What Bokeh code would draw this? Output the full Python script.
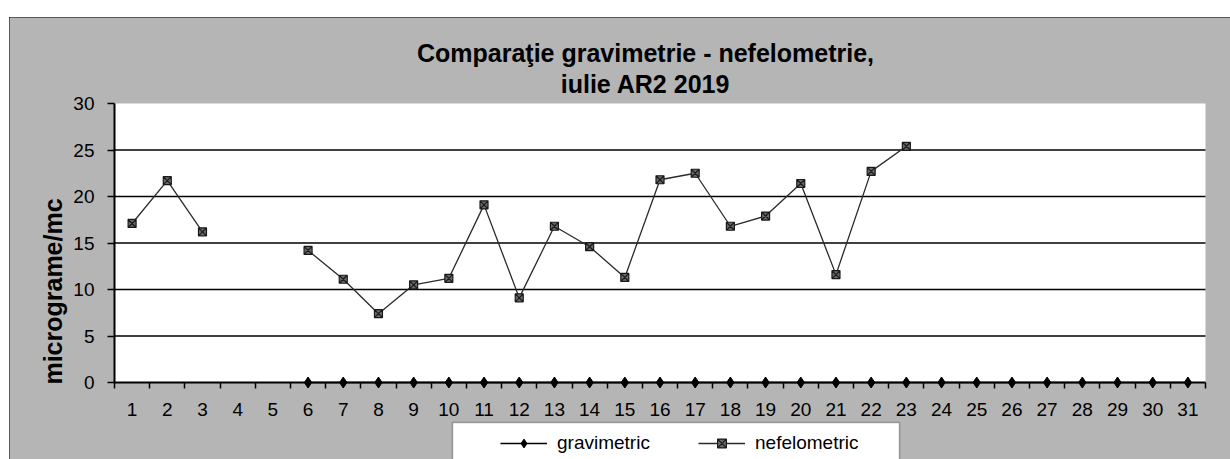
import math
import numpy as np
from bokeh.plotting import figure
from bokeh.models import FixedTicker, Legend, LegendItem, ColumnDataSource, Label, BoxAnnotation
from bokeh.embed import file_html
from bokeh.resources import INLINE

nan = float("nan")

# ---- data ----
days = list(range(1, 32))
day_labels = [str(d) for d in days]
gravimetric = [nan] * 5 + [0.0] * 26
nefelometric = [17.1, 21.7, 16.2, nan, nan, 14.2, 11.1, 7.4, 10.5, 11.2,
                19.1, 9.1, 16.8, 14.6, 11.3, 21.8, 22.5, 16.8, 17.9, 21.4,
                11.6, 22.7, 25.4, nan, nan, nan, nan, nan, nan, nan, nan]
y_ticks = [0, 5, 10, 15, 20, 25, 30]
title_lines = ["Comparaţie gravimetrie - nefelometrie,", "iulie AR2 2019"]
y_label = "micrograme/mc"
series_names = ["gravimetric", "nefelometric"]

FONT = "Liberation Sans"
BG = "#b5b5b5"

# layout: the frame covers the whole canvas; the data area is [0.5, 31.5] x [0, 30]
W, H = 1221, 442
PX_X = 1091 / 31.0      # px per category
PX_Y = 279 / 30.0       # px per unit
LEFT_PAD, RIGHT_PAD = 105, 25
TOP_PAD, BOTTOM_PAD = 86, 77
x0 = 0.5 - LEFT_PAD / PX_X
x1 = 31.5 + RIGHT_PAD / PX_X
y0 = 0 - BOTTOM_PAD / PX_Y
y1 = 30 + TOP_PAD / PX_Y

src = ColumnDataSource(dict(day=days, grav=np.array(gravimetric), nef=np.array(nefelometric)))

p = figure(width=W, height=H, x_range=(x0, x1), y_range=(y0, y1),
           output_backend="svg", toolbar_location=None, title=None,
           min_border_left=0, min_border_right=0, min_border_top=0, min_border_bottom=0,
           background_fill_color=BG, border_fill_color=BG, outline_line_color=None,
           margin=(17, 0, 0, 9),
           styles={"outline": "2px solid black", "outline-offset": "-2px"})
p.xgrid.visible = False
p.ygrid.visible = False

# white plot area
p.add_layout(BoxAnnotation(left=0.5, right=31.5, bottom=0, top=30, fill_color="white",
                           fill_alpha=1.0, line_color=None, level="image"))

# horizontal gridlines within the plot area
grid_y = y_ticks[1:-1]
p.segment(x0=[0.5] * len(grid_y), x1=[31.5] * len(grid_y), y0=grid_y, y1=grid_y,
          line_color="black", line_width=1.5)

# axes at fixed positions
p.xaxis.fixed_location = 0
p.xaxis.bounds = (0.5, 31.5)
p.xaxis.ticker = FixedTicker(ticks=days, minor_ticks=[d - 0.5 for d in days] + [31.5])
p.xaxis.major_label_overrides = {d: s for d, s in zip(days, day_labels)}
p.xaxis.major_tick_out = 0
p.xaxis.major_tick_in = 0
p.xaxis.minor_tick_out = 6
p.xaxis.minor_tick_in = 0
p.xaxis.minor_tick_line_color = "black"
p.xaxis.minor_tick_line_width = 1.5
p.xaxis.major_label_standoff = 14

p.yaxis.fixed_location = 0.5
p.yaxis.bounds = (0, 30)
p.yaxis.ticker = FixedTicker(ticks=y_ticks)
p.yaxis.major_tick_out = 7
p.yaxis.major_tick_in = 0
p.yaxis.minor_tick_out = 0
p.yaxis.major_tick_line_width = 1.5
p.yaxis.major_label_standoff = 13

for ax in (p.xaxis, p.yaxis):
    ax.axis_line_color = "black"
    ax.axis_line_width = 2
    ax.major_tick_line_color = "black"
    ax.major_label_text_font = FONT
    ax.major_label_text_font_size = "19px"
    ax.major_label_text_color = "black"

# series
r_gl = p.line("day", "grav", source=src, line_color="black", line_width=1.5)
r_gm = p.scatter("day", "grav", source=src, marker="diamond", size=11,
                 fill_color="black", line_color="black")
r_nl = p.line("day", "nef", source=src, line_color="#2a2a2a", line_width=1.3)
r_nm = p.scatter("day", "nef", source=src, marker="square_x", size=8,
                 fill_color="#6a6a6a", line_color="#1a1a1a", line_width=1.2)

# title
title_x = 0.5 + (645 - 114) / PX_X
for txt, yy in zip(title_lines, [30 + (103 - 52) / PX_Y, 30 + (103 - 83) / PX_Y]):
    p.add_layout(Label(x=title_x, y=yy, text=txt, text_align="center", text_baseline="middle",
                       text_font=FONT, text_font_style="bold", text_font_size="25px",
                       text_color="black"))

# y axis label
p.add_layout(Label(x=0.5 - (114 - 52) / PX_X, y=(382 - 291) / PX_Y, text=y_label,
                   angle=math.pi / 2, text_align="center", text_baseline="middle",
                   text_font=FONT, text_font_style="bold", text_font_size="25px",
                   text_color="black"))

# legend box (cut by the bottom edge, as in the original)
p.add_layout(BoxAnnotation(left=0.5 + (452 - 114) / PX_X, right=0.5 + (899 - 114) / PX_X,
                           top=(382 - 422) / PX_Y, bottom=y0 - 2,
                           fill_color="white", fill_alpha=1.0,
                           line_color="black", line_width=1.5))

legend_style = dict(orientation="horizontal", padding=10, glyph_width=47, glyph_height=22,
                    label_height=22, label_standoff=10, margin=0, border_line_color=None,
                    background_fill_alpha=0.0, label_text_font=FONT,
                    label_text_font_size="19px", label_text_color="black")
p.add_layout(Legend(items=[LegendItem(label=series_names[0], renderers=[r_gl, r_gm])],
                    location=(491, 5), **legend_style), "center")
p.add_layout(Legend(items=[LegendItem(label=series_names[1], renderers=[r_nl, r_nm])],
                    location=(689, 5), **legend_style), "center")

open("out.html", "w").write(file_html(p, INLINE))
